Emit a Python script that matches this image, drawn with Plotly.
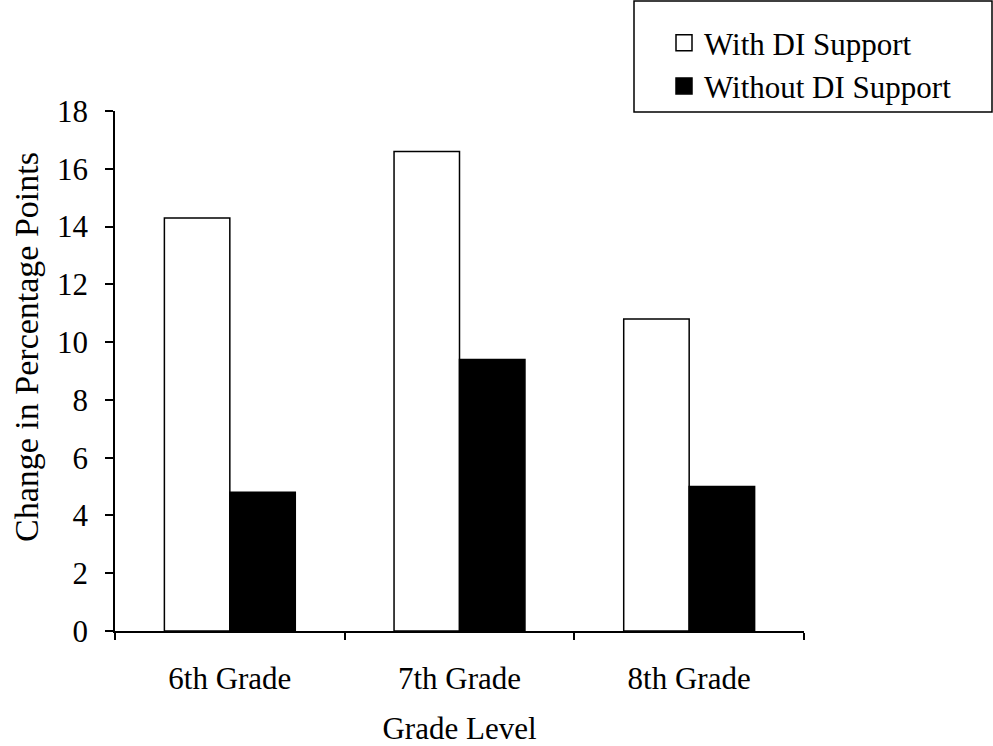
import plotly.graph_objects as go

categories = ["6th Grade", "7th Grade", "8th Grade"]
with_di = [14.3, 16.6, 10.8]
without_di = [4.8, 9.4, 5.0]
y_ticks = [0, 2, 4, 6, 8, 10, 12, 14, 16, 18]

FONT = "Liberation Serif, Times New Roman, serif"
FS = 31

fig = go.Figure()
fig.add_trace(go.Bar(x=categories, y=with_di, name="With DI Support", showlegend=False,
                     marker=dict(color="white", line=dict(color="black", width=1.5))))
fig.add_trace(go.Bar(x=categories, y=without_di, name="Without DI Support", showlegend=False,
                     marker=dict(color="black", line=dict(color="black", width=1.5))))
# legend entries with larger square keys
fig.add_trace(go.Scatter(x=[None], y=[None], mode="markers", name="With DI Support",
                         marker=dict(symbol="square", size=16, color="white",
                                     line=dict(color="black", width=1.5))))
fig.add_trace(go.Scatter(x=[None], y=[None], mode="markers", name="Without DI Support",
                         marker=dict(symbol="square", size=16, color="black",
                                     line=dict(color="black", width=1.5))))

fig.update_layout(
    width=993, height=746,
    margin=dict(l=115, r=189, t=111, b=115, autoexpand=False),
    paper_bgcolor="white", plot_bgcolor="white",
    font=dict(family=FONT, size=FS, color="black"),
    barmode="group", bargap=0.43, bargroupgap=0,
    showlegend=True,
    legend=dict(x=664 / 993, y=1 - 16 / 746, xanchor="left", yanchor="top",
                xref="container", yref="container",
                bgcolor="rgba(0,0,0,0)", borderwidth=0,
                font=dict(family=FONT, size=31),
                itemwidth=30, itemsizing="trace"),
    xaxis=dict(showline=True, linecolor="black", linewidth=1.5,
               ticks="outside", tickson="boundaries", ticklen=7, tickwidth=1.5,
               tickcolor="black", showgrid=False, automargin=False,
               tickfont=dict(family=FONT, size=FS), ticklabelstandoff=19,
               title=dict(text="Grade Level", standoff=31,
                          font=dict(family=FONT, size=FS))),
    yaxis=dict(range=[0, 18], tickvals=y_ticks, showline=True, linecolor="black",
               linewidth=1.5, ticks="outside", ticklen=8, tickwidth=1.5,
               tickcolor="black", showgrid=False, zeroline=False, automargin=False,
               tickfont=dict(family=FONT, size=FS), ticklabelstandoff=11),
)

fig.add_annotation(text="Change in Percentage Points", textangle=-90,
                   xref="paper", yref="paper", x=(26 - 115) / 689, y=(631 - 347) / 520,
                   xanchor="center", yanchor="middle", showarrow=False,
                   font=dict(family=FONT, size=34))

fig.add_shape(type="rect", xref="paper", yref="paper",
              x0=(634 - 115) / 689, x1=(992 - 115) / 689,
              y0=(631 - 112) / 520, y1=(631 - 1) / 520,
              line=dict(color="black", width=1.5), fillcolor="rgba(0,0,0,0)")

fig.write_html("out.html")
